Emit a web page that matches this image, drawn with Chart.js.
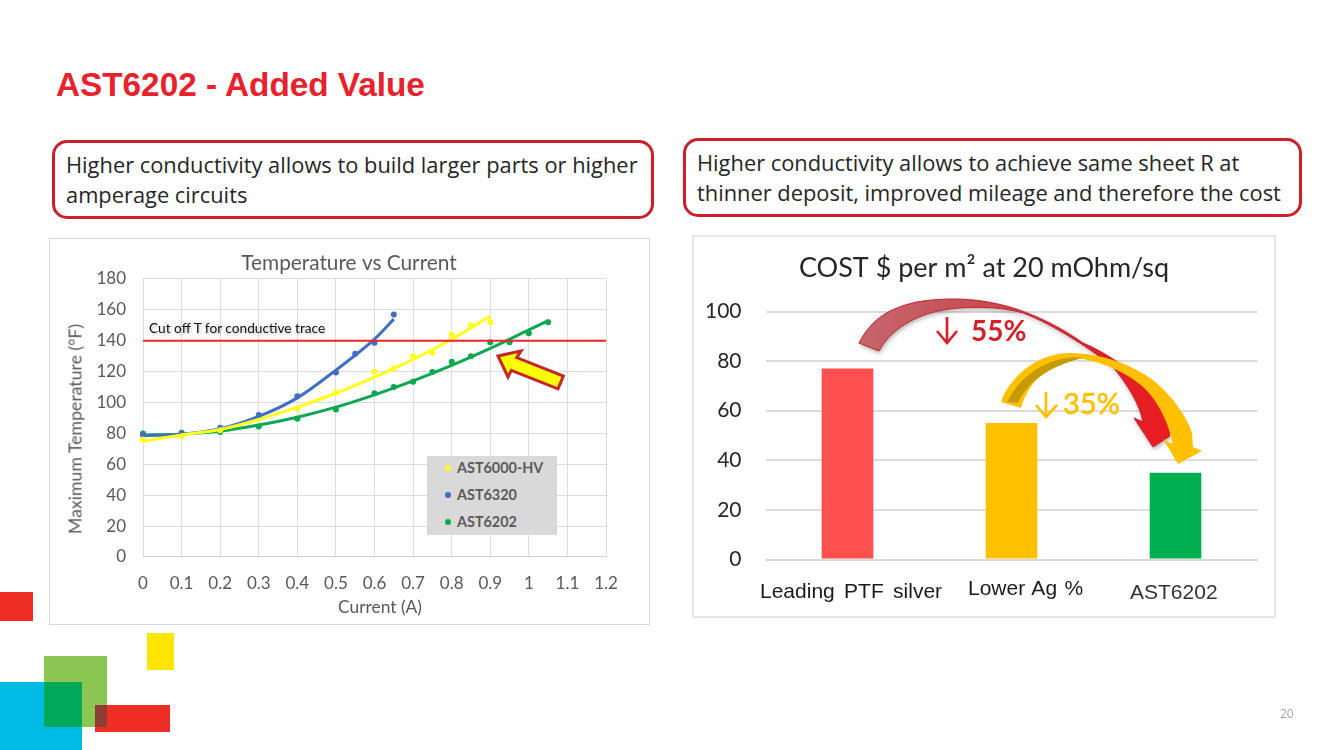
<!DOCTYPE html>
<html>
<head>
<meta charset="utf-8">
<title>AST6202 - Added Value</title>
<script src="https://cdn.jsdelivr.net/npm/chart.js@4/dist/chart.umd.min.js"></script>
<style>
  html, body { margin: 0; padding: 0; background: #fff; }
  body { position: relative; width: 1333px; height: 750px; overflow: hidden; }
  .abs { position: absolute; white-space: nowrap; }
  .block { position: absolute; }
  h1 { position: absolute; left: 56px; top: 66px; margin: 0; font: bold 33.3px "Liberation Sans", sans-serif; color: #e8212b; }
  .note { position: absolute; box-sizing: border-box; border: 3px solid #c9202c; border-radius: 15px; background: #fff;
    font: 21.85px/30px "Open Sans", sans-serif; color: #262626; white-space: nowrap; }
  .frame { position: absolute; box-sizing: border-box; background: #fff; }
  canvas { position: absolute; filter: blur(0.4px); }
  svg { position: absolute; left: 0; top: 0; }
  .dot { position: absolute; border-radius: 50%; }
</style>
</head>
<body>
<!-- corner blocks -->
<div class="block" style="left:0;top:592px;width:33px;height:29px;background:#ee2e24"></div>
<div class="block" style="left:147px;top:633px;width:27px;height:37px;background:#ffe600"></div>
<div class="block" style="left:44px;top:656px;width:63px;height:71px;background:#8cc652"></div>
<div class="block" style="left:0;top:682px;width:82px;height:68px;background:#00bce4"></div>
<div class="block" style="left:44px;top:682px;width:38px;height:45px;background:#00a85a"></div>
<div class="block" style="left:95px;top:705px;width:75px;height:27px;background:#ee2e24"></div>
<div class="block" style="left:95px;top:705px;width:12px;height:22px;background:#8f3c32"></div>

<h1>AST6202 - Added Value</h1>

<div class="note" style="left:52px;top:140px;width:602px;height:79px;padding:7px 0 0 11px">Higher conductivity allows to build larger parts or higher<br>amperage circuits</div>
<div class="note" style="left:683px;top:138px;width:619px;height:79px;padding:7px 0 0 11px">Higher conductivity allows to achieve same sheet R at<br>thinner deposit, improved mileage and therefore the cost</div>

<div class="frame" style="left:49px;top:238px;width:601px;height:387px;border:1px solid #d9d9d9"></div>
<div class="frame" style="left:692px;top:235px;width:584px;height:383px;border:2px solid #e6e6e6"></div>

<canvas id="tempChart" width="600" height="386" style="left:49px;top:238px"></canvas>
<canvas id="costChart" width="584" height="383" style="left:692px;top:235px"></canvas>

<!-- left chart overlays -->
<div class="abs" style="left:149px;top:319px;font:13.7px Lato,sans-serif;color:#111;text-shadow:1px 2px 3px #bbb">Cut off T for conductive trace</div>
<div class="abs" style="left:75px;top:429px;font:17.7px Lato,sans-serif;color:#595959;transform:translate(-50%,-50%) rotate(-90deg)">Maximum Temperature (°F)</div>
<div class="abs" style="left:380px;top:606px;font:17.4px Lato,sans-serif;color:#595959;transform:translate(-50%,-50%)">Current (A)</div>
<div class="block" style="left:427px;top:456px;width:130px;height:79px;background:#d9d9d9"></div>
<div id="legendBox"></div>

<!-- arrows -->
<svg width="1333" height="750" viewBox="0 0 1333 750">
  <defs>
    <linearGradient id="redFade" x1="860" y1="340" x2="1165" y2="440" gradientUnits="userSpaceOnUse">
      <stop offset="0" stop-color="#c4666c"/>
      <stop offset="0.4" stop-color="#c9474d"/>
      <stop offset="0.7" stop-color="#dc2229"/>
      <stop offset="1" stop-color="#ea1c22"/>
    </linearGradient>
  </defs>
  <polygon points="498,356 521,351 516.7,357.6 563.4,376.1 558,388.9 511.3,370.4 508,377" fill="#ffff00" stroke="#c4262a" stroke-width="3" stroke-linejoin="miter"/>

  <path style="filter:drop-shadow(1px 2px 2px rgba(0,0,0,.3))" d="M859 343 C872 318 890 308 917 302 C945 297 975 299 993 303 C1030 310 1065 330 1083 343 C1105 352 1135 372 1150 390 C1160 405 1168 418 1170 436 L1153 447 L1134 418 L1143 422 C1140 405 1128 385 1113 367 C1095 352 1055 325 1023 313 C1000 306 965 306 943 310 C915 315 890 330 879 351 Z" fill="url(#redFade)" stroke="#c8202a" stroke-width="1"/>

  <path d="M1001 402 C1008 380 1035 353 1070 353 C1100 353 1130 364 1150 378 C1170 392 1188 418 1192 433 L1193 447 L1202 451 L1178 464 L1163 439 L1172 444 C1172 432 1160 402 1143 387 C1130 375 1105 362 1077 358 C1060 358 1030 375 1021 408 Z" fill="#ffc000"/>
  <path d="M1007 402 L1018 403 C1026 385 1045 367 1083 358 C1065 354 1025 365 1007 402 Z" fill="#c79a00"/>

  <path d="M947 317 V343 M937 331 L947 343 L957 331" fill="none" stroke="#d4202a" stroke-width="2.6"/>
  <path d="M1046 392 V417 M1036 405 L1046 417 L1057 405" fill="none" stroke="#ffc000" stroke-width="2.6"/>
</svg>
<div class="abs" style="left:971px;top:313px;font:bold 28px Lato,sans-serif;color:#d4202a">55%</div>
<div class="abs" style="left:1063px;top:385px;font:29px Lato,sans-serif;color:#ffc000;-webkit-text-stroke:0.6px #ffc000">35%</div>

<div class="abs" id="costLabel0" style="left:760px;top:579px;font:21px 'Liberation Sans',sans-serif;word-spacing:3.5px;color:#1a1a1a"></div>
<div class="abs" id="costLabel1" style="left:968px;top:576px;font:21px 'Liberation Sans',sans-serif;word-spacing:1.5px;color:#1a1a1a"></div>
<div class="abs" id="costLabel2" style="left:1130px;top:580px;font:21px 'Liberation Sans',sans-serif;color:#333"></div>

<div class="abs" style="left:1280px;top:705px;font:12px 'Open Sans',sans-serif;color:#a6a6a6">20</div>

<script>
const seriesNames = ["AST6000-HV", "AST6320", "AST6202"];
const seriesColors = ["#ffff1e", "#3f6fc4", "#0aa850"];

const yellowX = [0, 0.1, 0.2, 0.4, 0.5, 0.6, 0.65, 0.7, 0.75, 0.8, 0.85, 0.9];
const yellowY = [76, 78, 82, 96, 106.7, 120, 122, 130, 132, 144, 150, 152];
const blueX = [0, 0.1, 0.2, 0.3, 0.4, 0.5, 0.55, 0.6, 0.65];
const blueY = [79, 80, 83.6, 92, 104, 119.5, 131.6, 138.7, 157];
const greenX = [0, 0.1, 0.2, 0.3, 0.4, 0.5, 0.6, 0.65, 0.7, 0.75, 0.8, 0.85, 0.9, 0.95, 1, 1.05];
const greenY = [80, 80.5, 81, 84.5, 89.5, 95.5, 106, 110, 113.5, 119.7, 126.4, 130, 139, 139, 144.8, 152];

const yellowTrendX = [0, 0.1, 0.2, 0.3, 0.4, 0.5, 0.6, 0.7, 0.8, 0.9];
const yellowTrendY = [75, 79, 82.5, 89, 97, 106, 116.5, 128, 141, 156];
const blueTrendX = [0, 0.1, 0.2, 0.3, 0.4, 0.5, 0.6, 0.65];
const blueTrendY = [78.5, 79.5, 83, 91, 103, 121, 141, 154];
const greenTrendX = [0, 0.1, 0.2, 0.3, 0.4, 0.5, 0.6, 0.7, 0.8, 0.9, 1, 1.05];
const greenTrendY = [79, 79.5, 81.5, 85.5, 90.5, 97, 105, 114, 124, 135, 147, 153];

const cutoffX = [0, 1.2];
const cutoffY = [140, 140];

const costLabels = ["Leading PTF silver", "Lower Ag %", "AST6202"];
const costValues = [77, 55, 35];
const costColors = ["#ff5050", "#ffc000", "#00b050"];

const toPoints = (xs, ys) => xs.map((x, i) => ({ x, y: ys[i] }));

const trendSet = (xs, ys, color) => ({
  data: toPoints(xs, ys),
  showLine: true,
  borderColor: color,
  borderWidth: 3,
  pointRadius: 0,
  cubicInterpolationMode: "monotone",
  clip: false,
});

const dotSet = (xs, ys, color) => ({
  data: toPoints(xs, ys),
  showLine: false,
  backgroundColor: color,
  borderWidth: 0,
  pointRadius: 3,
  clip: false,
});

// title is centred on the whole canvas, not on the padded plot
const centerTitle = {
  id: "centerTitle",
  afterLayout: (chart) => {
    chart.titleBlock.left = 0;
    chart.titleBlock.right = chart.width;
  },
};

new Chart(document.getElementById("tempChart"), {
  type: "scatter",
  data: {
    datasets: [
      { data: toPoints(cutoffX, cutoffY), showLine: true, borderColor: "#ff1f26", borderWidth: 2, pointRadius: 0 },
      trendSet(yellowTrendX, yellowTrendY, seriesColors[0]),
      dotSet(yellowX, yellowY, seriesColors[0]),
      trendSet(blueTrendX, blueTrendY, seriesColors[1]),
      dotSet(blueX, blueY, seriesColors[1]),
      trendSet(greenTrendX, greenTrendY, seriesColors[2]),
      dotSet(greenX, greenY, seriesColors[2]),
    ],
  },
  plugins: [centerTitle],
  options: {
    responsive: false,
    animation: false,
    devicePixelRatio: 1,
    layout: { autoPadding: false, padding: { right: 43 } },
    plugins: {
      legend: { display: false },
      tooltip: { enabled: false },
      title: {
        display: true,
        text: "Temperature vs Current",
        color: "#595959",
        font: { family: "Lato", size: 20.8, weight: "normal" },
        padding: { top: 12.5, bottom: 3.5 },
      },
    },
    scales: {
      x: {
        type: "linear",
        min: 0,
        max: 1.2,
        afterFit: (scale) => { scale.height = 67; },
        grid: { color: "#dcdcdc", drawTicks: false },
        border: { color: "#d0d0d0" },
        ticks: {
          stepSize: 0.1,
          padding: 16,
          maxRotation: 0,
          autoSkip: false,
          color: "#595959",
          font: { family: "Lato", size: 17 },
          callback: (v) => String(Number(v.toFixed(1))),
        },
      },
      y: {
        min: 0,
        max: 180,
        afterFit: (scale) => { scale.width = 94; },
        grid: { color: "#dcdcdc", drawTicks: false },
        border: { color: "#dcdcdc" },
        ticks: { stepSize: 20, padding: 17, color: "#595959", font: { family: "Lato", size: 17 } },
      },
    },
  },
});

new Chart(document.getElementById("costChart"), {
  type: "bar",
  data: {
    labels: costLabels,
    datasets: [{ data: costValues, backgroundColor: costColors, barPercentage: 0.63, categoryPercentage: 0.5 }],
  },
  plugins: [centerTitle],
  options: {
    responsive: false,
    animation: false,
    devicePixelRatio: 1,
    layout: { autoPadding: false, padding: { right: 18.5 } },
    plugins: {
      legend: { display: false },
      tooltip: { enabled: false },
      title: {
        display: true,
        text: "COST $ per m² at 20 mOhm/sq",
        color: "#262626",
        font: { family: "Lato", size: 27, weight: "normal" },
        padding: { top: 17, bottom: 27.1 },
      },
    },
    scales: {
      x: {
        afterFit: (scale) => { scale.height = 58.5; },
        grid: { display: false },
        border: { color: "#d9d9d9", width: 2 },
        ticks: { display: false },
      },
      y: {
        min: 0,
        max: 100,
        afterFit: (scale) => { scale.width = 73.5; },
        grid: { color: "#dcdcdc", lineWidth: 2, drawTicks: false },
        border: { display: false },
        ticks: { stepSize: 20, padding: 24, color: "#262626", font: { family: "Lato", size: 21 } },
      },
    },
  },
});

costLabels.forEach((label, i) => {
  document.getElementById(`costLabel${i}`).textContent = label;
});

// grey legend box sits on top of the grid
const legendBox = document.getElementById("legendBox");
const legendTops = [468, 495, 522];
seriesNames.forEach((name, i) => {
  const dot = document.createElement("div");
  dot.className = "dot";
  dot.style.cssText = `left:445px;top:${legendTops[i] - 3}px;width:6px;height:6px;background:${seriesColors[i]}`;
  legendBox.appendChild(dot);
  const text = document.createElement("div");
  text.className = "abs";
  text.style.cssText = `left:457px;top:${legendTops[i] - 9}px;font:bold 14.4px Lato,sans-serif;color:#595959`;
  text.textContent = name;
  legendBox.appendChild(text);
});
</script>
</body>
</html>
